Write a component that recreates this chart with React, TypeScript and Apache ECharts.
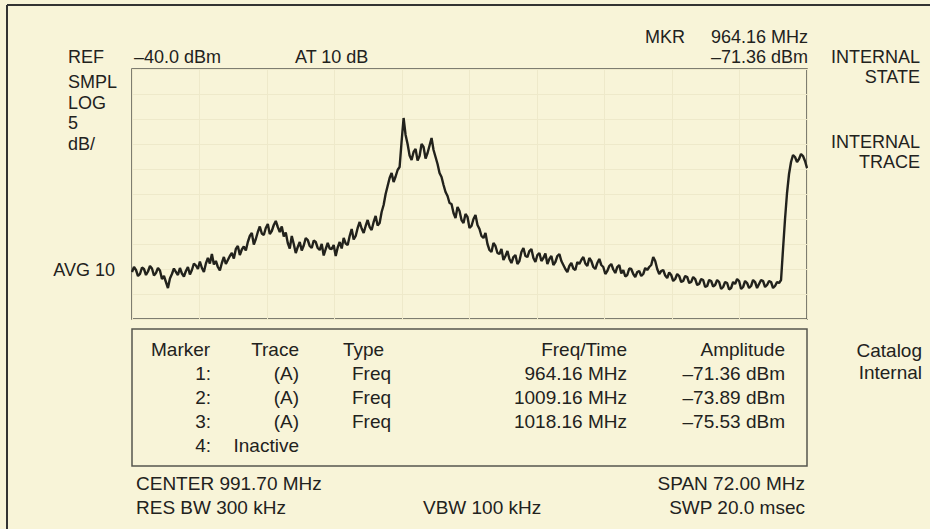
import React, { useEffect, useRef } from "react";
import * as echarts from "echarts";

// Sweep settings
const START_MHZ = 955.7;
const SPAN_MHZ = 72.0;
const REF_DBM = -40;
const BOTTOM_DBM = -90;
const DB_PER_DIV = 5;

// Trace amplitudes (dBm), evenly spaced sweep points across the span
const traceDbm = [
  -80.6, -79.6, -80.2, -81.4, -81.0, -79.7, -80.0, -81.2, -80.5, -79.4, -79.9, -81.3, -80.8, -79.8, -80.3, -82.0, -81.4, -82.6, -83.8, -81.9,
  -81.0, -79.9, -80.6, -81.2, -79.8, -80.9, -81.5, -80.4, -79.6, -81.1, -80.2, -78.9, -79.3, -80.0, -78.5, -79.8, -80.6, -78.9, -77.8, -78.9,
  -77.0, -79.1, -78.4, -79.6, -80.3, -78.8, -77.6, -79.0, -78.2, -77.4, -76.8, -77.9, -76.0, -75.4, -77.2, -76.1, -75.5, -76.3, -74.6, -73.4,
  -72.8, -75.1, -74.0, -72.6, -71.5, -72.9, -73.2, -71.8, -71.0, -73.0, -72.4, -71.2, -70.4, -71.6, -72.6, -71.5, -73.5, -72.7, -74.8, -75.9,
  -73.4, -75.0, -76.8, -75.6, -74.6, -76.3, -75.3, -73.8, -74.2, -75.4, -75.8, -74.3, -74.6, -75.8, -76.2, -75.0, -77.3, -76.0, -74.8, -75.9,
  -76.0, -75.2, -77.4, -75.7, -74.6, -75.9, -73.8, -74.9, -75.2, -73.4, -72.0, -74.1, -73.4, -71.8, -70.6, -71.9, -72.8, -71.4, -70.2, -71.6,
  -72.2, -70.6, -69.4, -71.3, -70.8, -68.6, -67.2, -65.0, -63.4, -61.8, -60.8, -62.6, -61.5, -60.2, -59.6, -54.5, -49.8, -53.2, -55.0, -57.3,
  -58.2, -56.6, -56.0, -58.3, -57.4, -55.0, -55.6, -57.9, -56.8, -55.3, -53.8, -56.2, -57.6, -59.0, -60.8, -61.6, -63.2, -64.6, -65.4, -66.8,
  -67.0, -68.8, -69.8, -67.6, -68.4, -70.2, -70.8, -69.0, -69.6, -71.8, -71.4, -70.0, -69.2, -71.2, -72.0, -73.4, -73.8, -72.8, -75.0, -76.2,
  -76.6, -74.8, -75.4, -76.8, -77.0, -76.0, -78.2, -77.4, -76.4, -78.0, -78.8, -77.6, -77.2, -79.0, -78.4, -76.6, -75.8, -77.4, -77.6, -76.4,
  -76.0, -77.8, -78.6, -77.2, -76.8, -78.4, -77.8, -76.9, -79.0, -78.0, -77.4, -79.2, -78.6, -77.4, -77.0, -78.4, -79.2, -80.0, -80.6, -79.4,
  -78.8, -79.9, -80.2, -78.6, -79.0, -78.2, -77.6, -78.9, -79.4, -77.8, -78.4, -79.6, -80.0, -78.8, -78.0, -79.2, -79.6, -81.0, -80.4, -79.4,
  -79.0, -80.1, -80.8, -79.6, -79.2, -80.9, -80.2, -81.5, -81.2, -79.9, -80.0, -81.0, -81.6, -80.6, -80.4, -81.4, -81.0, -79.8, -80.2, -79.6,
  -79.2, -77.6, -78.4, -80.0, -81.0, -80.4, -80.2, -81.3, -81.8, -80.7, -81.2, -82.4, -82.0, -81.0, -81.4, -82.6, -82.4, -81.4, -81.6, -82.8,
  -82.6, -81.6, -82.0, -83.2, -83.0, -82.0, -82.2, -83.6, -83.4, -82.2, -82.4, -83.5, -83.2, -82.2, -82.6, -84.0, -83.6, -82.6, -82.8, -84.1,
  -83.8, -82.6, -83.0, -82.0, -82.4, -84.0, -83.6, -82.4, -82.8, -83.8, -83.4, -82.2, -82.6, -83.8, -83.0, -82.2, -82.4, -83.6, -83.2, -82.4,
  -82.6, -83.8, -83.4, -82.6, -82.8, -82.2, -76.0, -70.0, -64.8, -61.0, -58.6, -57.2, -57.6, -58.6, -58.0, -57.0, -57.4, -58.4, -59.8,
];

// Header texts
const refText = "–40.0 dBm";
const attenText = "AT 10 dB";
const mkrFreqText = "964.16 MHz";
const mkrAmpText = "–71.36 dBm";
const leftLabels = ["SMPL", "LOG", "5", "dB/"];

// Marker table
const tableHeader = ["Marker", "Trace", "Type", "Freq/Time", "Amplitude"];
const markerIds = ["1:", "2:", "3:", "4:"];
const markerTraces = ["(A)", "(A)", "(A)", "Inactive"];
const markerTypes = ["Freq", "Freq", "Freq", ""];
const markerFreqs = ["964.16 MHz", "1009.16 MHz", "1018.16 MHz", ""];
const markerAmps = ["–71.36 dBm", "–73.89 dBm", "–75.53 dBm", ""];

// Footer texts
const centerText = "CENTER 991.70 MHz";
const rbwText = "RES BW 300 kHz";
const vbwText = "VBW 100 kHz";
const spanText = "SPAN 72.00 MHz";
const swpText = "SWP 20.0 msec";

const INK = "#22221d";
const FONT = '"Liberation Sans", Arial, Helvetica, sans-serif';

function txt(text: string, x: number, y: number, align: string = "left", size: number = 18) {
  return {
    type: "text",
    x,
    y,
    silent: true,
    style: {
      text,
      fill: INK,
      fontSize: size,
      fontFamily: FONT,
      align,
      verticalAlign: "middle",
      textAlign: align,
      textVerticalAlign: "middle",
    },
  };
}

export default function App() {
  const ref = useRef<HTMLDivElement | null>(null);

  useEffect(() => {
    if (!ref.current) return;
    const chart = echarts.init(ref.current, undefined, { renderer: "svg" });
    const n = traceDbm.length;
    const data = traceDbm.map((v, i) => [START_MHZ + (i * SPAN_MHZ) / (n - 1), v]);

    const graphics: any[] = [];
    // outer frame
    graphics.push({ type: "line", shape: { x1: 7, y1: 5, x2: 930, y2: 5 }, style: { stroke: "#333", lineWidth: 2 } });
    graphics.push({ type: "line", shape: { x1: 7, y1: 5, x2: 7, y2: 529 }, style: { stroke: "#333", lineWidth: 2 } });
    // table box
    graphics.push({
      type: "rect",
      shape: { x: 132, y: 329, width: 675, height: 137 },
      style: { fill: "none", stroke: "#55554e", lineWidth: 1.5 },
    });

    // top texts
    graphics.push(txt("REF", 68, 57));
    graphics.push(txt(refText, 134, 57));
    graphics.push(txt(attenText, 295, 57));
    graphics.push(txt("MKR", 645, 37));
    graphics.push(txt(mkrFreqText, 808, 37, "right"));
    graphics.push(txt(mkrAmpText, 808, 57, "right"));
    graphics.push(txt("INTERNAL", 920, 57, "right"));
    graphics.push(txt("STATE", 920, 77, "right"));
    graphics.push(txt("INTERNAL", 920, 142, "right"));
    graphics.push(txt("TRACE", 920, 162, "right"));
    leftLabels.forEach((t, i) => graphics.push(txt(t, 68, 82 + i * 20.5)));
    graphics.push(txt("AVG 10", 115, 270, "right"));

    // table
    const hy = 349;
    const rowH = 24;
    graphics.push(txt(tableHeader[0], 151, hy, "left", 19));
    graphics.push(txt(tableHeader[1], 299, hy, "right", 19));
    graphics.push(txt(tableHeader[2], 343, hy, "left", 19));
    graphics.push(txt(tableHeader[3], 627, hy, "right", 19));
    graphics.push(txt(tableHeader[4], 785, hy, "right", 19));
    markerIds.forEach((id, i) => {
      const y = hy + (i + 1) * rowH;
      graphics.push(txt(id, 211, y, "right", 19));
      graphics.push(txt(markerTraces[i], 299, y, "right", 19));
      if (markerTypes[i]) graphics.push(txt(markerTypes[i], 352, y, "left", 19));
      if (markerFreqs[i]) graphics.push(txt(markerFreqs[i], 627, y, "right", 19));
      if (markerAmps[i]) graphics.push(txt(markerAmps[i], 785, y, "right", 19));
    });
    graphics.push(txt("Catalog", 922, 350, "right", 19));
    graphics.push(txt("Internal", 922, 372, "right", 19));

    // footer
    graphics.push(txt(centerText, 136, 483, "left", 19));
    graphics.push(txt(rbwText, 136, 507, "left", 19));
    graphics.push(txt(vbwText, 423, 507, "left", 19));
    graphics.push(txt(spanText, 805, 483, "right", 19));
    graphics.push(txt(swpText, 805, 507, "right", 19));

    chart.setOption({
      animation: false,
      backgroundColor: "#f8f4d8",
      grid: {
        left: 132,
        top: 69,
        width: 675,
        height: 250,
        show: true,
        borderColor: "#55554e",
        borderWidth: 1.5,
        backgroundColor: "transparent",
      },
      xAxis: [
        {
          type: "value",
          min: START_MHZ,
          max: START_MHZ + SPAN_MHZ,
          axisLine: { show: false },
          axisTick: { show: false },
          axisLabel: { show: false },
          splitLine: { show: false },
        },
        {
          type: "value",
          min: 0,
          max: 10,
          interval: 1,
          position: "top",
          axisLine: { show: false },
          axisTick: { show: false },
          axisLabel: { show: false },
          splitLine: { show: true, lineStyle: { color: "#eee9ca", width: 1 } },
        },
      ],
      yAxis: {
        type: "value",
        min: BOTTOM_DBM,
        max: REF_DBM,
        interval: DB_PER_DIV,
        axisLine: { show: false },
        axisTick: { show: false },
        axisLabel: { show: false },
        splitLine: { show: true, lineStyle: { color: "#eee9ca", width: 1 } },
      },
      series: [
        {
          type: "line",
          xAxisIndex: 0,
          data,
          symbol: "none",
          silent: true,
          lineStyle: { color: "#22221c", width: 2.4 },
        },
      ],
      graphic: { elements: graphics },
    });

    return () => chart.dispose();
  }, []);

  return (
    <div
      ref={ref}
      style={{ position: "fixed", left: 0, top: 0, width: 930, height: 529 }}
    />
  );
}
